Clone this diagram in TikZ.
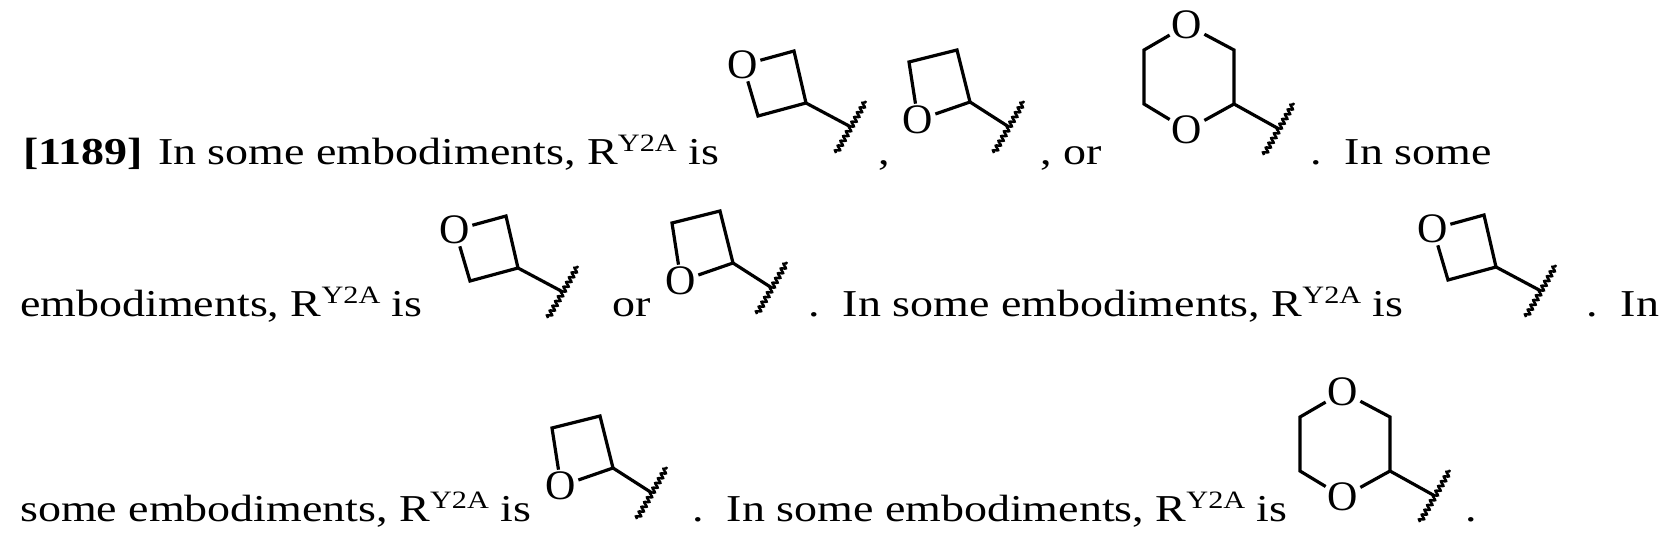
\documentclass[tikz,border=0pt]{standalone}
\usepackage{fontspec}
\setmainfont{Liberation Serif}
\usetikzlibrary{decorations.pathmorphing}
\newcommand{\RYtwoA}{R\raisebox{13pt}{\fontsize{25}{25}\selectfont Y2A}}
\newcommand{\wide}[1]{\scalebox{1.21}[1]{#1}}
\tikzset{
 x=1pt, y=-1pt,
 bond/.style={line width=3.2pt},
 wavy/.style={line width=2.4pt, decorate, decoration={snake, amplitude=2.2pt, segment length=5.5pt}},
 atom/.style={font=\fontsize{42}{42}\selectfont, inner sep=2pt},
 txt/.style={anchor=base west, inner sep=0pt, font=\fontsize{38}{38}\selectfont},
 oxthree/.pic={
  \node[atom] (-O) at (-108,-62) {O};
  \coordinate (-a) at (-57,-76); \coordinate (-c) at (-45,-24); \coordinate (-b) at (-93,-11);
  \draw[bond,line join=miter] (-O) -- (-a) -- (-c) -- (-b) -- (-O);
  \draw[bond] (-c) -- (0,0);
  \draw[wavy] (-15,26) -- (15,-26);
 },
 oxtwo/.pic={
  \node[atom] (-O) at (-91,-7) {O};
  \coordinate (-c) at (-39,-25); \coordinate (-a) at (-52,-77); \coordinate (-b) at (-100,-65);
  \draw[bond,line join=miter] (-O) -- (-c) -- (-a) -- (-b) -- (-O);
  \draw[bond] (-c) -- (0,0);
  \draw[wavy] (-15,26) -- (15,-26);
 },
 diox/.pic={
  \node[atom] (-O1) at (-92,-104) {O};
  \node[atom] (-O4) at (-92,1) {O};
  \coordinate (-tr) at (-45,-79); \coordinate (-c) at (-45,-25);
  \coordinate (-bl) at (-135,-25); \coordinate (-tl) at (-135,-79);
  \draw[bond,line join=miter] (-O1) -- (-tr) -- (-c) -- (-O4) -- (-bl) -- (-tl) -- (-O1);
  \draw[bond] (-c) -- (0,0);
  \draw[wavy] (-15,26) -- (15,-26);
 }
}
\begin{document}
\begin{tikzpicture}
\useasboundingbox (0,0) rectangle (1660,552);
% line 1
\node[txt] (t1a) at (23,164) {\wide{\textbf{[1189]}}};
\node[txt] (t1b) at (158,164) {\wide{In some embodiments, \RYtwoA{} is}};
\pic (m1) at (851,127) {oxthree};
\node[txt] (t1c) at (878,164) {\wide{,}};
\pic (m2) at (1009,127) {oxtwo};
\node[txt] (t1d) at (1040,164) {\wide{, or}};
\pic (m3) at (1279,129) {diox};
\node[txt] (t1e) at (1310,164) {\wide{.\ \ In some}};
% line 2
\node[txt] (t2a) at (20,316) {\wide{embodiments, \RYtwoA{} is}};
\pic (m4) at (563,292) {oxthree};
\node[txt] (t2b) at (612,316) {\wide{or}};
\pic (m5) at (772,288) {oxtwo};
\node[txt] (t2c) at (808,316) {\wide{.\ \ In some embodiments, \RYtwoA{} is}};
\pic (m6) at (1541,291) {oxthree};
\node[txt] (t2d) at (1586,316) {\wide{.\ \ In}};
% line 3
\node[txt] (t3a) at (20,521) {\wide{some embodiments, \RYtwoA{} is}};
\pic (m7) at (652,493) {oxtwo};
\node[txt] (t3b) at (692,521) {\wide{.\ \ In some embodiments, \RYtwoA{} is}};
\pic (m8) at (1435,496) {diox};
\node[txt] (t3c) at (1465,521) {\wide{.}};
\end{tikzpicture}
\end{document}
